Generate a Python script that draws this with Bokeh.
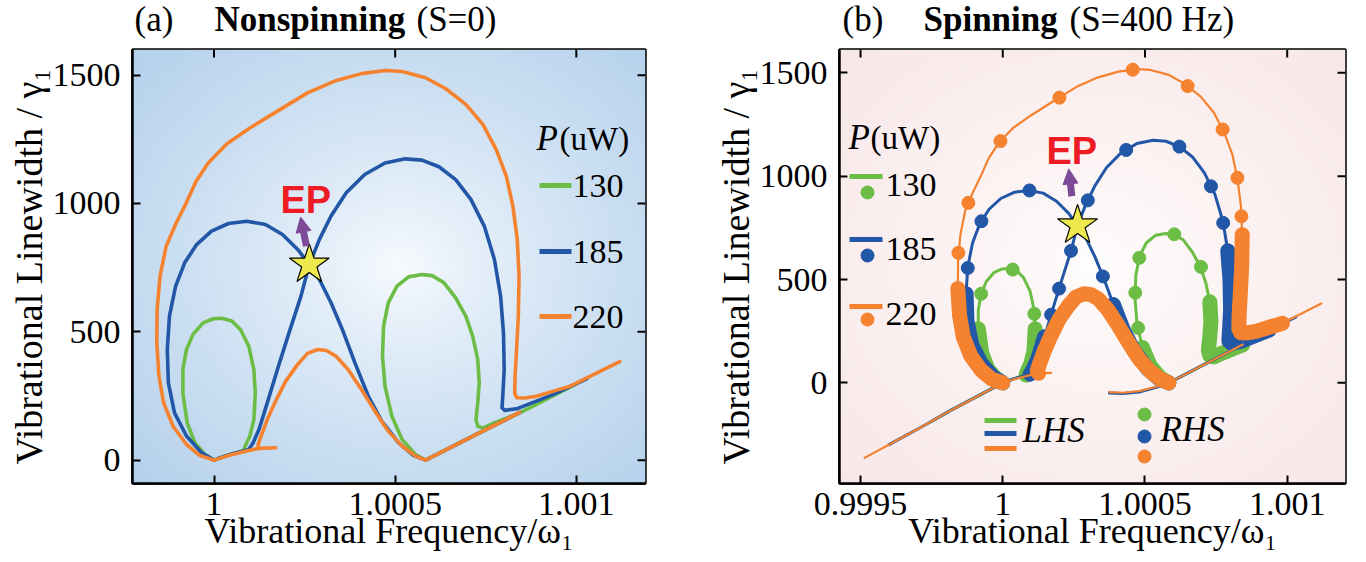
import numpy as np
from bokeh.plotting import figure
from bokeh.models import (Range1d, FixedTicker, Label, Arrow, NormalHead,
                          CustomJSTickFormatter)
from bokeh.layouts import row, column
from bokeh.embed import file_html
from bokeh.resources import INLINE

# ---------------------------------------------------------------------------
# DATA  (frequency offset in ppm of omega_1  ->  freq = 1 + df*1e-6 ;
#        linewidth in units of gamma_1)
# ---------------------------------------------------------------------------
powers = ["130", "185", "220"]
power_colors = ["#6CBD45", "#2256A6", "#F5822F"]

# P = 130 uW
p130_loop1_df = [0, -25, -53, -74, -86, -86, -76, -58, -30, -2, 21, 49, 73, 96, 110, 114, 110, 99, 86, 82]
p130_loop1_lw = [0, 22, 68, 145, 262, 353, 431, 490, 535, 551, 553, 542, 509, 444, 353, 262, 158, 94, 55, 38]
p130_base_df = [0, 27, 54, 82]
p130_base_lw = [0, 14, 26, 38]
p130_loop2_df = [584, 556, 519, 491, 472, 465, 468, 481, 505, 537, 574, 602, 635, 667, 695, 714, 728, 732, 728, 723, 728, 742, 770, 844, 1000]
p130_loop2_lw = [0, 22, 81, 171, 288, 405, 522, 613, 678, 714, 723, 719, 691, 632, 561, 483, 392, 301, 223, 158, 132, 125, 143, 184, 297]
p130_diag_df = [584, 844]
p130_diag_lw = [0, 186]
p130_neg_df = [0, -188, -250]
p130_neg_lw = [0, -137, -187]

# P = 185 uW
p185_loop1_df = [0, -34, -76, -109, -126, -129, -123, -106, -81, -48, -7, 40, 91, 142, 189, 231, 263, 291, 323, 356, 389, 426, 463, 509, 551, 584]
p185_loop1_lw = [0, 29, 94, 184, 301, 431, 561, 678, 769, 840, 892, 922, 931, 918, 879, 821, 762, 704, 613, 503, 379, 249, 152, 68, 18, 0]
p185_base_df = [0, 27, 54, 82, 96]
p185_base_lw = [0, 14, 26, 36, 42]
p185_loop2_df = [96, 108, 124, 147, 175, 207, 240, 263, 291, 323, 365, 416, 472, 528, 574, 621, 667, 709, 746, 774, 791, 799, 801, 797, 795, 802, 835, 890, 937, 1030]
p185_loop2_lw = [42, 68, 119, 223, 353, 496, 639, 762, 860, 951, 1042, 1113, 1158, 1174, 1169, 1143, 1093, 1016, 912, 782, 639, 496, 353, 249, 204, 194, 200, 230, 256, 318]
p185_diag_df = [584, 844]
p185_diag_lw = [0, 186]
p185_neg_df = [0, -188, -281, -400]
p185_neg_lw = [0, -137, -210, -299]
p185_negr_df = [375, 422, 480, 539, 586]
p185_negr_lw = [-49, -52, -44, -22, 0]

# P = 220 uW
p220_loop1_df = [0, -39, -76, -113, -139, -152, -158, -157, -149, -132, -104, -80, -50, -16, 35, 100, 175, 258, 333, 407, 472, 519, 584, 639, 695, 742, 779, 807, 825, 837, 842, 840, 835, 831, 830, 836, 858, 890, 937, 983, 1120]
p220_loop1_lw = [0, 18, 61, 132, 223, 327, 457, 587, 717, 834, 925, 992, 1085, 1158, 1232, 1295, 1360, 1431, 1477, 1506, 1518, 1514, 1490, 1448, 1386, 1308, 1210, 1106, 990, 860, 717, 561, 431, 327, 262, 243, 242, 249, 269, 288, 384]
p220_base_df = [0, 45, 110, 126, 170]
p220_base_lw = [0, 20, 42, 46, 48]
p220_loop2_df = [126, 121, 128, 147, 170, 198, 231, 258, 286, 310, 337, 370, 407, 444, 481, 519, 556, 584]
p220_loop2_lw = [46, 57, 87, 158, 230, 308, 373, 416, 431, 427, 405, 353, 275, 191, 113, 55, 16, 0]
p220_diag_df = [584, 844]
p220_diag_lw = [0, 186]
p220_neg_df = [0, -188, -281, -486]
p220_neg_lw = [0, -137, -210, -363]
p220_negr_df = [375, 422, 480, 539, 586]
p220_negr_lw = [-45, -48, -40, -19, 0]

# Spinning panel: sampled points (markers)
p130_mk_df = [-83, -76, 35, 111, 476, 466, 480, 603, 697]
p130_mk_lw = [237, 431, 548, 334, 266, 436, 605, 719, 561]
p185_mk_df = [-123, -75, 94, 352, 170, 198, 240, 299, 434, 621, 732, 775]
p185_mk_lw = [556, 782, 931, 515, 330, 456, 639, 883, 1127, 1143, 951, 774]
p220_mk_df = [-156, -121, -8, 199, 457, 650, 773, 825, 839]
p220_mk_lw = [629, 871, 1170, 1380, 1515, 1436, 1226, 992, 806]

# Exceptional point annotation
ep_df, ep_lw = 263, 762
ep_arrow_a = (255, 834, 239, 947)
ep_arrow_b = (243, 903, 232, 1035)

# axes
xticks_a = [1.0, 1.0005, 1.001]
xticks_b = [0.9995, 1.0, 1.0005, 1.001]
yticks = [0, 500, 1000, 1500]
xr_a = (1 - 225e-6, 1 + 1191e-6)
yr_a = (-91, 1600)
xr_b = (1 - 574e-6, 1 + 1205e-6)
yr_b = (-487, 1613)


def freq(df):
    return [1.0 + v * 1e-6 for v in df]


SERIF = "Liberation Serif"
TITLE_H = 40
PURPLE = "#7E4A98"


def radial_image(edge, center, cx, cy, n=200):
    xs = (np.arange(n) + 0.5) / n
    X, Y = np.meshgrid(xs, xs)
    r = np.sqrt((X - cx) ** 2 + (Y - cy) ** 2) / np.sqrt(0.5)
    t = np.clip(r, 0, 1) ** 0.8
    img = np.empty((n, n), dtype=np.uint32)
    v = img.view(dtype=np.uint8).reshape((n, n, 4))
    for k in range(3):
        v[:, :, k] = np.round(center[k] + (edge[k] - center[k]) * t).astype(np.uint8)
    v[:, :, 3] = 255
    return img


def style_axis(ax):
    ax.major_tick_in = 8
    ax.major_tick_out = 0
    ax.minor_tick_line_color = None
    ax.major_tick_line_width = 2
    ax.major_tick_line_color = "black"
    ax.axis_line_width = 2.5
    ax.axis_line_color = "black"
    ax.major_label_text_font = SERIF
    ax.major_label_text_font_size = "34px"
    ax.major_label_text_color = "black"
    ax.axis_label_text_font = SERIF
    ax.axis_label_text_font_size = "36px"
    ax.axis_label_text_font_style = "normal"
    ax.axis_label_text_color = "black"


def make_fig(xr, yr, xticks, frame, bl, br, edge, center, cx, cy):
    p = figure(width=683, height=562 - TITLE_H, output_backend="svg", toolbar_location=None,
               title=None, x_range=Range1d(*xr), y_range=Range1d(*yr),
               min_border_left=bl, min_border_right=br,
               min_border_top=49 - TITLE_H, min_border_bottom=79)
    p.grid.visible = False
    p.outline_line_color = "black"
    p.outline_line_width = 2.5
    p.border_fill_color = "white"
    p.background_fill_color = "white"
    p.image_rgba(image=[radial_image(edge, center, cx, cy)], x=xr[0], y=yr[0],
                 dw=xr[1] - xr[0], dh=yr[1] - yr[0])
    fmt = CustomJSTickFormatter(code="return String(Math.round(tick*10000)/10000);")
    xa, ya = p.xaxis[0], p.yaxis[0]
    xa.ticker = FixedTicker(ticks=xticks)
    xa.formatter = fmt
    ya.ticker = FixedTicker(ticks=yticks)
    style_axis(xa)
    style_axis(ya)
    xa.major_label_standoff = 9
    xa.axis_label_standoff = -7
    ya.major_label_standoff = 12
    ya.axis_label_standoff = 0
    ya.axis_label_text_font_size = "38px"
    xa.axis_label = "Vibrational Frequency/ω₁"
    ya.axis_label = "Vibrational Linewidth / γ₁"
    # mirrored tick marks on the top and right frame edges
    dy = 8 / frame[3] * (yr[1] - yr[0])
    dx = 8 / frame[2] * (xr[1] - xr[0])
    p.segment(x0=xticks, y0=[yr[1]] * len(xticks), x1=xticks, y1=[yr[1] - dy] * len(xticks),
              line_color="black", line_width=2)
    p.segment(x0=[xr[1]] * len(yticks), y0=yticks, x1=[xr[1] - dx] * len(yticks), y1=yticks,
              line_color="black", line_width=2)
    return p


def title_fig(frame, parts):
    # the column layout aligns this figure's frame with the panel's frame,
    # so its x range is expressed in page pixels of that frame
    fl, fw = frame[0], frame[2]
    t = figure(width=683, height=TITLE_H, output_backend="svg", toolbar_location=None,
               title=None, x_range=Range1d(fl, fl + fw), y_range=Range1d(TITLE_H, 0),
               x_axis_type=None, y_axis_type=None, min_border=0)
    t.outline_line_color = None
    t.background_fill_color = "white"
    t.border_fill_color = "white"
    for x, text, style in parts:
        t.add_layout(Label(x=x, y=19, text=text, text_font=SERIF, text_font_size="35px",
                           text_font_style=style, text_color="black",
                           text_align="left", text_baseline="middle"))
    return t


def px2d(frame, xr, yr, px, py):
    fl, ft, fw, fh = frame
    x = xr[0] + (px - fl) / fw * (xr[1] - xr[0])
    y = yr[1] - (py - ft) / fh * (yr[1] - yr[0])
    return x, y


def add_text(p, frame, xr, yr, px, py, text, size="34px", style="normal",
             font=SERIF, color="black", align="left"):
    x, y = px2d(frame, xr, yr, px, py - 2)
    p.add_layout(Label(x=x, y=y, text=text, text_font=font, text_font_size=size,
                       text_font_style=style, text_color=color, text_align=align,
                       text_baseline="middle"))


frame_a = (132, 49, 513, 434)
frame_b = (839, 49, 506, 434)

# ---------------------------------------------------------------------------
# Panel (a): non-spinning
# ---------------------------------------------------------------------------
pa = make_fig(xr_a, yr_a, xticks_a, frame_a, 132, 38, (181, 209, 236), (248, 251, 254), 0.52, 0.5)

branches_a = {
    "130": [(p130_loop1_df, p130_loop1_lw), (p130_base_df, p130_base_lw),
            (p130_loop2_df, p130_loop2_lw), (p130_diag_df, p130_diag_lw)],
    "185": [(p185_loop1_df, p185_loop1_lw), (p185_base_df, p185_base_lw),
            (p185_loop2_df, p185_loop2_lw), (p185_diag_df, p185_diag_lw)],
    "220": [(p220_loop1_df, p220_loop1_lw), (p220_base_df, p220_base_lw),
            (p220_loop2_df, p220_loop2_lw), (p220_diag_df, p220_diag_lw)],
}
for pw, col in zip(powers, power_colors):
    for df, lw in branches_a[pw]:
        pa.line(freq(df), lw, line_color=col, line_width=3.6, line_join="round", line_cap="round")

pa.add_layout(Arrow(x_start=1 + ep_arrow_a[0] * 1e-6, y_start=ep_arrow_a[1],
                    x_end=1 + ep_arrow_a[2] * 1e-6, y_end=ep_arrow_a[3],
                    line_color=PURPLE, line_width=7,
                    end=NormalHead(size=15, fill_color=PURPLE, line_color=PURPLE)))
pa.scatter(freq([ep_df]), [ep_lw], marker="star", size=42, fill_color="#ECE84E",
           line_color="black", line_width=1.2)

add_text(pa, frame_a, xr_a, yr_a, 280, 201, "EP", size="38px", style="bold",
         font="Liberation Sans", color="#ED1C24")
add_text(pa, frame_a, xr_a, yr_a, 536, 140, "P", size="35px", style="italic")
add_text(pa, frame_a, xr_a, yr_a, 559, 140, "(uW)", size="33px")
leg_y_a = [185, 251, 316]
for pw, col, ly in zip(powers, power_colors, leg_y_a):
    x0, y0 = px2d(frame_a, xr_a, yr_a, 539, ly)
    x1, _ = px2d(frame_a, xr_a, yr_a, 571, ly)
    pa.segment([x0], [y0], [x1], [y0], line_color=col, line_width=5)
    add_text(pa, frame_a, xr_a, yr_a, 572, ly + 2, pw, size="34px")

ta = title_fig(frame_a, [(134, "(a)", "normal"), (214, "Nonspinning", "bold"),
                         (416, "(S=0)", "normal")])

# ---------------------------------------------------------------------------
# Panel (b): spinning
# ---------------------------------------------------------------------------
pb = make_fig(xr_b, yr_b, xticks_b, frame_b, 156, 21, (248, 231, 231), (255, 253, 253), 0.5, 0.5)

thin_b = {
    "130": [(p130_neg_df, p130_neg_lw)] + branches_a["130"],
    "185": [(p185_neg_df, p185_neg_lw), (p185_negr_df, p185_negr_lw)] + branches_a["185"],
    "220": [(p220_neg_df, p220_neg_lw), (p220_negr_df, p220_negr_lw)] + branches_a["220"],
}
bands_b = {
    "130": [(p130_loop1_df[0:5], p130_loop1_lw[0:5]), (p130_loop1_df[15:], p130_loop1_lw[15:]),
            (p130_loop2_df[0:4], p130_loop2_lw[0:4]), (p130_loop2_df[16:24], p130_loop2_lw[16:24])],
    "185": [(p185_loop1_df[0:6], p185_loop1_lw[0:6]), (p185_loop1_df[20:], p185_loop1_lw[20:]),
            (p185_loop2_df[0:4], p185_loop2_lw[0:4]), (p185_loop2_df[20:29], p185_loop2_lw[20:29])],
    "220": [(p220_loop1_df[0:7], p220_loop1_lw[0:7]), (p220_loop1_df[30:40], p220_loop1_lw[30:40]),
            (p220_loop2_df, p220_loop2_lw)],
}
markers_b = {
    "130": (p130_mk_df, p130_mk_lw),
    "185": (p185_mk_df, p185_mk_lw),
    "220": (p220_mk_df, p220_mk_lw),
}
thin_w = {"130": 3.0, "185": 3.0, "220": 2.2}
for pw, col in zip(powers, power_colors):
    for df, lw in thin_b[pw]:
        pb.line(freq(df), lw, line_color=col, line_width=thin_w[pw], line_join="round", line_cap="round")
    for df, lw in bands_b[pw]:
        pb.line(freq(df), lw, line_color=col, line_width=15, line_join="round", line_cap="round")
    mdf, mlw = markers_b[pw]
    pb.scatter(freq(mdf), mlw, size=13, fill_color=col, line_color=col)

pb.add_layout(Arrow(x_start=1 + ep_arrow_b[0] * 1e-6, y_start=ep_arrow_b[1],
                    x_end=1 + ep_arrow_b[2] * 1e-6, y_end=ep_arrow_b[3],
                    line_color=PURPLE, line_width=7,
                    end=NormalHead(size=15, fill_color=PURPLE, line_color=PURPLE)))
pb.scatter(freq([ep_df]), [ep_lw], marker="star", size=42, fill_color="#ECE84E",
           line_color="black", line_width=1.2)

add_text(pb, frame_b, xr_b, yr_b, 1046, 152, "EP", size="38px", style="bold",
         font="Liberation Sans", color="#ED1C24")
add_text(pb, frame_b, xr_b, yr_b, 848, 139, "P", size="35px", style="italic")
add_text(pb, frame_b, xr_b, yr_b, 870, 139, "(uW)", size="33px")

leg_line_y_b = [176, 239, 306]
leg_dot_y_b = [192, 255, 319]
leg_txt_y_b = [186, 250, 315]
for pw, col, ly, dy, ty in zip(powers, power_colors, leg_line_y_b, leg_dot_y_b, leg_txt_y_b):
    x0, y0 = px2d(frame_b, xr_b, yr_b, 849, ly)
    x1, _ = px2d(frame_b, xr_b, yr_b, 882, ly)
    pb.segment([x0], [y0], [x1], [y0], line_color=col, line_width=5)
    dx, dyy = px2d(frame_b, xr_b, yr_b, 867, dy)
    pb.scatter([dx], [dyy], size=13, fill_color=col, line_color=col)
    add_text(pb, frame_b, xr_b, yr_b, 885, ty, pw, size="34px")

lhs_y = [420, 433, 448]
rhs_y = [414, 436, 456]
for col, ly, ry in zip(power_colors, lhs_y, rhs_y):
    x0, y0 = px2d(frame_b, xr_b, yr_b, 984, ly)
    x1, _ = px2d(frame_b, xr_b, yr_b, 1016, ly)
    pb.segment([x0], [y0], [x1], [y0], line_color=col, line_width=5)
    dx, dyy = px2d(frame_b, xr_b, yr_b, 1144, ry)
    pb.scatter([dx], [dyy], size=13, fill_color=col, line_color=col)
add_text(pb, frame_b, xr_b, yr_b, 1022, 432, "LHS", size="35px", style="italic")
add_text(pb, frame_b, xr_b, yr_b, 1160, 431, "RHS", size="35px", style="italic")

tb = title_fig(frame_b, [(842, "(b)", "normal"), (923, "Spinning", "bold"),
                         (1069, "(S=400 Hz)", "normal")])

layout = row(column(ta, pa), column(tb, pb))
open("out.html", "w").write(file_html(layout, INLINE))
